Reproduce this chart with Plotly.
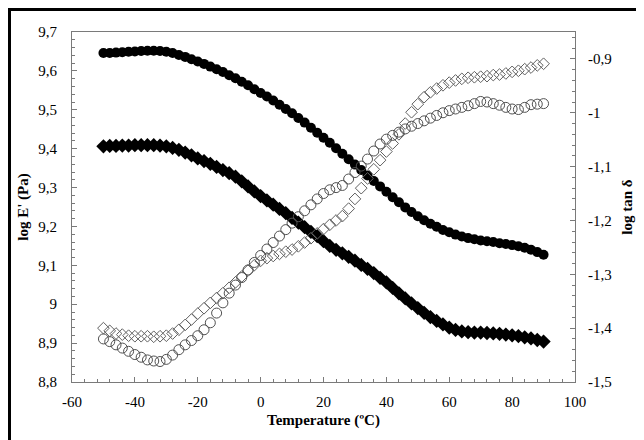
import plotly.graph_objects as go

temperature = [-50, -48, -46, -44, -42, -40, -38, -36, -34, -32, -30, -28, -26, -24, -22, -20, -18, -16, -14, -12,
               -10, -8, -6, -4, -2, 0, 2, 4, 6, 8, 10, 12, 14, 16, 18, 20, 22, 24, 26, 28,
               30, 32, 34, 36, 38, 40, 42, 44, 46, 48, 50, 52, 54, 56, 58, 60, 62, 64, 66, 68,
               70, 72, 74, 76, 78, 80, 82, 84, 86, 88, 90]

log_E_circles = [9.646, 9.646, 9.647, 9.648, 9.649, 9.650, 9.651, 9.652, 9.652, 9.651, 9.649, 9.646, 9.641, 9.636,
                 9.630, 9.624, 9.618, 9.611, 9.604, 9.597, 9.589, 9.581, 9.572, 9.563, 9.553, 9.543, 9.534, 9.524,
                 9.513, 9.502, 9.491, 9.479, 9.467, 9.454, 9.441, 9.428, 9.415, 9.401, 9.387, 9.373, 9.359, 9.345,
                 9.331, 9.317, 9.303, 9.289, 9.275, 9.262, 9.249, 9.237, 9.226, 9.216, 9.207, 9.199, 9.191, 9.185,
                 9.179, 9.174, 9.170, 9.167, 9.164, 9.162, 9.160, 9.157, 9.155, 9.152, 9.149, 9.145, 9.140, 9.134,
                 9.127]

log_E_diamonds = [9.406, 9.407, 9.407, 9.408, 9.408, 9.409, 9.409, 9.409, 9.409, 9.408, 9.406, 9.402, 9.397, 9.390,
                  9.383, 9.375, 9.368, 9.361, 9.353, 9.345, 9.337, 9.328, 9.316, 9.303, 9.290, 9.278, 9.267, 9.256,
                  9.245, 9.234, 9.222, 9.210, 9.198, 9.186, 9.175, 9.162, 9.150, 9.140, 9.131, 9.122, 9.112, 9.101,
                  9.091, 9.080, 9.068, 9.056, 9.042, 9.028, 9.015, 9.002, 8.990, 8.978, 8.967, 8.957, 8.948, 8.940,
                  8.934, 8.930, 8.928, 8.927, 8.927, 8.926, 8.925, 8.924, 8.922, 8.920, 8.918, 8.915, 8.912, 8.908,
                  8.904]

log_tan_diamonds = [-1.400, -1.405, -1.410, -1.412, -1.414, -1.415, -1.415, -1.415, -1.416, -1.415, -1.414, -1.410,
                    -1.403, -1.394, -1.384, -1.373, -1.363, -1.353, -1.344, -1.335, -1.325, -1.315, -1.304, -1.293,
                    -1.283, -1.275, -1.270, -1.266, -1.262, -1.258, -1.254, -1.248, -1.241, -1.233, -1.224, -1.216,
                    -1.208, -1.200, -1.192, -1.178, -1.160, -1.140, -1.122, -1.105, -1.088, -1.072, -1.057, -1.040,
                    -1.020, -0.999, -0.984, -0.971, -0.962, -0.955, -0.949, -0.944, -0.940, -0.937, -0.935, -0.934,
                    -0.933, -0.932, -0.930, -0.929, -0.927, -0.924, -0.922, -0.919, -0.916, -0.912, -0.909]

log_tan_circles = [-1.420, -1.425, -1.431, -1.437, -1.443, -1.449, -1.454, -1.459, -1.461, -1.462, -1.458, -1.450,
                   -1.440, -1.431, -1.423, -1.414, -1.403, -1.390, -1.372, -1.353, -1.335, -1.320, -1.306, -1.292,
                   -1.278, -1.265, -1.253, -1.241, -1.229, -1.217, -1.205, -1.193, -1.182, -1.171, -1.160, -1.150,
                   -1.143, -1.139, -1.135, -1.123, -1.111, -1.099, -1.086, -1.071, -1.058, -1.049, -1.042, -1.036,
                   -1.030, -1.025, -1.020, -1.015, -1.010, -1.005, -1.000, -0.996, -0.993, -0.990, -0.987, -0.983,
                   -0.979, -0.980, -0.983, -0.986, -0.990, -0.993, -0.994, -0.990, -0.985, -0.984, -0.983]

x_tickvals = [-60, -40, -20, 0, 20, 40, 60, 80, 100]
x_ticktext = ["-60", "-40", "-20", "0", "20", "40", "60", "80", "100"]
y_tickvals = [8.8, 8.9, 9.0, 9.1, 9.2, 9.3, 9.4, 9.5, 9.6, 9.7]
y_ticktext = ["8,8", "8,9", "9", "9,1", "9,2", "9,3", "9,4", "9,5", "9,6", "9,7"]
y2_tickvals = [-1.5, -1.4, -1.3, -1.2, -1.1, -1.0, -0.9]
y2_ticktext = ["-1,5", "-1,4", "-1,3", "-1,2", "-1,1", "-1", "-0,9"]

x_title = "Temperature (ºC)"
y_title = "log E' (Pa)"
y2_title = "log tan δ"

FONT = "Liberation Serif, Times New Roman, serif"
AXC = "#7a7a7a"

fig = go.Figure()
fig.add_trace(go.Scatter(x=temperature, y=log_tan_diamonds, yaxis="y2", mode="markers",
                         marker=dict(symbol="diamond-open", size=9, color="#606060", line=dict(width=1, color="#606060")),
                         showlegend=False))
fig.add_trace(go.Scatter(x=temperature, y=log_tan_circles, yaxis="y2", mode="markers",
                         marker=dict(symbol="circle-open", size=10, color="#505050", line=dict(width=1, color="#505050")),
                         showlegend=False))
fig.add_trace(go.Scatter(x=temperature, y=log_E_diamonds, mode="markers",
                         marker=dict(symbol="diamond", size=11, color="black"), showlegend=False))
fig.add_trace(go.Scatter(x=temperature, y=log_E_circles, mode="markers",
                         marker=dict(symbol="circle", size=10, color="black"), showlegend=False))

L, R, T, B = 64, 77, 24, 66
W, H = 644, 440
pw, ph = W - L - R, H - T - B

fig.update_layout(
    width=W, height=H,
    margin=dict(l=L, r=R, t=T, b=B),
    paper_bgcolor="white", plot_bgcolor="white",
    font=dict(family=FONT, size=15, color="black"),
    xaxis=dict(range=[-60, 100], tickvals=x_tickvals, ticktext=x_ticktext, showgrid=False, zeroline=False,
               showline=True, linecolor=AXC, linewidth=1, mirror=True,
               ticks="inside", ticklen=5, tickcolor=AXC,
               minor=dict(dtick=4, tick0=-60, ticks="inside", ticklen=3, tickcolor=AXC),
               ticklabelstandoff=6,
               title=dict(text="<b>" + x_title + "</b>", standoff=5, font=dict(size=15))),
    yaxis=dict(range=[8.8, 9.7], tickvals=y_tickvals, ticktext=y_ticktext, showgrid=False, zeroline=False,
               showline=True, linecolor=AXC, linewidth=1, mirror=True,
               ticks="inside", ticklen=5, tickcolor=AXC,
               minor=dict(dtick=0.02, tick0=8.8, ticks="inside", ticklen=3, tickcolor=AXC),
               ticklabelstandoff=11,
               title=dict(text="<b>" + y_title + "</b>", standoff=6, font=dict(size=15))),
    yaxis2=dict(range=[-1.5, -0.85], tickvals=y2_tickvals, ticktext=y2_ticktext, overlaying="y", side="right",
                showgrid=False, zeroline=False, showline=False,
                ticks="inside", ticklen=5, tickcolor=AXC,
                minor=dict(dtick=0.02, tick0=-1.5, ticks="inside", ticklen=3, tickcolor=AXC),
                ticklabelstandoff=12,
                title=dict(text="<b>" + y2_title + "</b>", standoff=10, font=dict(size=15))),
    shapes=[dict(type="rect", xref="paper", yref="paper",
                 x0=-(L - 1.5) / pw, x1=(W - L - 3) / pw,
                 y0=-(B - 3) / ph, y1=1 + (T - 1.5) / ph,
                 line=dict(color="black", width=3), layer="above")],
)

fig.write_html("out.html")
